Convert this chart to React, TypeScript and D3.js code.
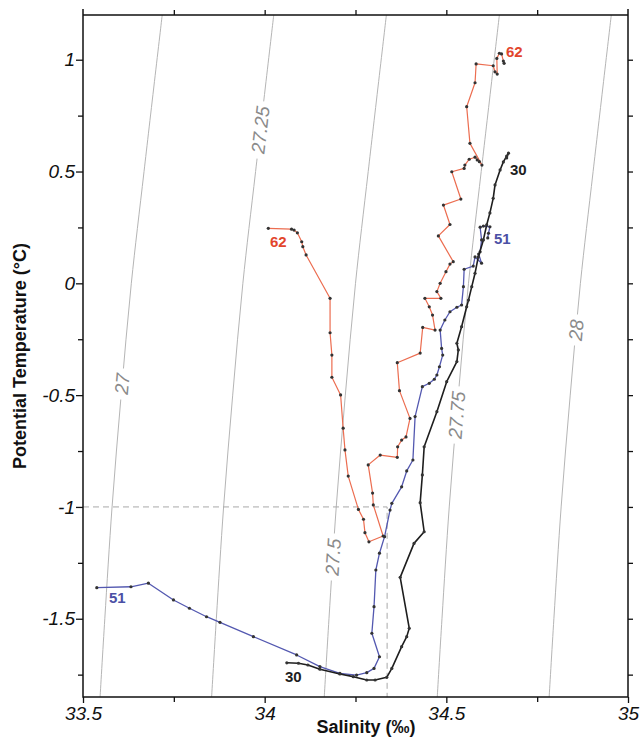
import React, { useEffect, useRef } from 'react';
import * as d3 from 'd3';

// temperature levels at which the isopycnal salinities were read
const isoTemps = [1.2, 0.5, 0, -0.5, -1, -1.5, -1.85];
const iso27 = [33.718, 33.668, 33.633, 33.605, 33.58, 33.56, 33.547];
const iso2725 = [34.025, 33.975, 33.94, 33.912, 33.887, 33.867, 33.854];
const iso275 = [34.335, 34.285, 34.25, 34.222, 34.197, 34.177, 34.164];
const iso2775 = [34.646, 34.596, 34.561, 34.533, 34.508, 34.488, 34.475];
const iso28 = [34.954, 34.904, 34.869, 34.841, 34.816, 34.796, 34.783];
const isoLabels = ['27', '27.25', '27.5', '27.75', '28'];
const isoLabelTemps = [-0.45, 0.686, -1.224, -0.589, -0.209];

// [salinity, potential temperature]
const station62: [number, number][] = [
  [34.01, 0.246], [34.074, 0.242], [34.081, 0.238], [34.09, 0.226], [34.102, 0.186],
  [34.105, 0.164], [34.114, 0.127], [34.18, -0.067], [34.18, -0.221], [34.185, -0.321],
  [34.185, -0.42], [34.209, -0.499], [34.216, -0.648], [34.221, -0.745], [34.23, -0.862],
  [34.258, -1.011], [34.272, -1.055], [34.276, -1.115], [34.287, -1.156], [34.326, -1.13],
  [34.299, -0.991], [34.297, -0.938], [34.285, -0.812], [34.318, -0.768], [34.365, -0.778],
  [34.366, -0.731], [34.377, -0.701], [34.389, -0.687], [34.4, -0.604], [34.371, -0.48],
  [34.365, -0.355], [34.428, -0.312], [34.435, -0.197], [34.469, -0.209], [34.462, -0.142],
  [34.453, -0.105], [34.441, -0.067], [34.485, -0.067], [34.474, -0.037], [34.483, 0.0],
  [34.499, 0.052], [34.51, 0.086], [34.519, 0.097], [34.478, 0.212], [34.51, 0.263],
  [34.492, 0.35], [34.54, 0.377], [34.515, 0.499], [34.549, 0.514], [34.551, 0.529],
  [34.563, 0.555], [34.579, 0.564], [34.585, 0.552], [34.591, 0.544], [34.598, 0.529],
  [34.565, 0.626], [34.556, 0.79], [34.579, 0.897], [34.582, 0.981], [34.629, 0.973],
  [34.634, 0.946], [34.64, 0.936], [34.639, 1.006], [34.646, 1.029], [34.652, 1.026],
  [34.657, 0.994], [34.659, 0.984],
];

const station51: [number, number][] = [
  [33.538, -1.361], [33.632, -1.357], [33.68, -1.341], [33.749, -1.416], [33.793, -1.453],
  [33.84, -1.491], [33.877, -1.516], [33.969, -1.58], [34.088, -1.662], [34.152, -1.714],
  [34.207, -1.744], [34.253, -1.752], [34.281, -1.741], [34.301, -1.722], [34.316, -1.67],
  [34.295, -1.565], [34.301, -1.446], [34.306, -1.282], [34.316, -1.207], [34.33, -1.133],
  [34.345, -1.014], [34.35, -0.984], [34.377, -0.91], [34.391, -0.839], [34.408, -0.79],
  [34.414, -0.596], [34.434, -0.462], [34.453, -0.447], [34.467, -0.429], [34.474, -0.41],
  [34.481, -0.373], [34.49, -0.321], [34.487, -0.291], [34.483, -0.209], [34.496, -0.164],
  [34.51, -0.127], [34.529, -0.107], [34.542, -0.097], [34.547, -0.015], [34.549, 0.063],
  [34.574, 0.077], [34.579, 0.118], [34.597, 0.09], [34.589, 0.131], [34.593, 0.141],
  [34.597, 0.194], [34.593, 0.251], [34.602, 0.256], [34.62, 0.253], [34.616, 0.224],
  [34.614, 0.203],
];

const station30: [number, number][] = [
  [34.061, -1.697], [34.093, -1.699], [34.119, -1.707], [34.152, -1.726], [34.207, -1.747],
  [34.244, -1.759], [34.281, -1.774], [34.304, -1.774], [34.336, -1.762], [34.35, -1.722],
  [34.377, -1.625], [34.391, -1.58], [34.398, -1.543], [34.373, -1.315], [34.411, -1.163],
  [34.439, -1.111], [34.428, -0.981], [34.434, -0.857], [34.439, -0.731], [34.474, -0.574],
  [34.501, -0.44], [34.529, -0.35], [34.533, -0.298], [34.529, -0.268], [34.542, -0.194],
  [34.556, -0.105], [34.561, -0.075], [34.57, -0.015], [34.579, 0.045], [34.588, 0.118],
  [34.602, 0.194], [34.611, 0.261], [34.62, 0.315], [34.629, 0.38], [34.634, 0.44],
  [34.648, 0.507], [34.657, 0.543], [34.666, 0.569], [34.671, 0.582], [34.666, 0.561],
];

const xMajor = [33.5, 34, 34.5, 35];
const xMinor = [33.75, 34.25, 34.75];
const yMajor = [-1.5, -1, -0.5, 0, 0.5, 1];
const yMinor = [-1.75, -1.25, -0.75, -0.25, 0.25, 0.75];

const FONT = '"Liberation Sans", Arial, Helvetica, sans-serif';

export default function App() {
  const svgRef = useRef<SVGSVGElement>(null);

  useEffect(() => {
    if (!svgRef.current) return;
    const svg = d3.select(svgRef.current);
    svg.selectAll('*').remove();

    const x = d3.scaleLinear().domain([33.5, 35]).range([83, 628]);
    const y = d3.scaleLinear().domain([-1.85, 1.2]).range([697, 15]);

    svg.append('defs').append('clipPath').attr('id', 'plot-clip')
      .append('rect')
      .attr('x', x(33.5)).attr('y', y(1.2))
      .attr('width', x(35) - x(33.5)).attr('height', y(-1.85) - y(1.2));

    // Isopycnals
    const isoGroup = svg.append('g').attr('clip-path', 'url(#plot-clip)');
    const isoLine = d3.line<number>()
      .x(s => x(s))
      .y((_, i) => y(isoTemps[i]))
      .curve(d3.curveCatmullRom);

    [iso27, iso2725, iso275, iso2775, iso28].forEach((sal, k) => {
      isoGroup.append('path')
        .attr('d', isoLine(sal))
        .attr('fill', 'none')
        .style('stroke', '#b5b5b5')
        .style('stroke-width', 1);

      const salAt = d3.scaleLinear().domain(isoTemps).range(sal);
      const t = isoLabelTemps[k];
      const cx = x(salAt(t));
      const cy = y(t);
      const ang = Math.atan2(y(t + 0.1) - y(t - 0.1), x(salAt(t + 0.1)) - x(salAt(t - 0.1))) * 180 / Math.PI;

      const lg = isoGroup.append('g').attr('transform', `translate(${cx},${cy}) rotate(${ang})`);
      const rect = lg.append('rect').attr('fill', '#fff');
      const txt = lg.append('text')
        .attr('text-anchor', 'middle')
        .attr('dy', '0.35em')
        .style('font-family', FONT)
        .style('font-style', 'italic')
        .style('font-size', '19px')
        .style('fill', '#8a8a8a')
        .text(isoLabels[k]);
      const len = (txt.node() as SVGTextElement).getComputedTextLength();
      rect.attr('x', -len / 2 - 5).attr('y', -8).attr('width', len + 10).attr('height', 16);
    });

    // Reference dashed lines at -1 degC
    const refS = 34.337;
    svg.append('path')
      .attr('d', `M${x(33.5)},${y(-1)}H${x(refS)}V${y(-1.85)}`)
      .attr('fill', 'none')
      .style('stroke', '#a8a8a8')
      .style('stroke-width', 1)
      .style('stroke-dasharray', '6,4');

    // Profiles
    const line = d3.line<[number, number]>().x(d => x(d[0])).y(d => y(d[1]));
    const profiles = [
      { data: station62, color: '#ec6d50', width: 1.2 },
      { data: station51, color: '#5358b0', width: 1.3 },
      { data: station30, color: '#1e1e1e', width: 1.6 },
    ];
    profiles.forEach(p => {
      svg.append('path')
        .attr('d', line(p.data))
        .attr('fill', 'none')
        .style('stroke', p.color)
        .style('stroke-width', p.width)
        .style('stroke-linejoin', 'round');
      svg.append('g').selectAll('circle')
        .data(p.data)
        .enter()
        .append('circle')
        .attr('cx', d => x(d[0]))
        .attr('cy', d => y(d[1]))
        .attr('r', 1.6)
        .style('fill', '#333');
    });

    // Station labels at both ends of each profile
    const stationLabels = [
      { text: '62', color: '#e2452c', pts: [[270, 247], [506, 57]] },
      { text: '51', color: '#4b50a5', pts: [[109, 603], [494, 244]] },
      { text: '30', color: '#1e1e1e', pts: [[285, 682], [510, 175]] },
    ];
    stationLabels.forEach(l => {
      l.pts.forEach(([px, py]) => {
        svg.append('text')
          .attr('x', px)
          .attr('y', py)
          .style('font-family', FONT)
          .style('font-weight', '700')
          .style('font-size', '15px')
          .style('fill', l.color)
          .text(l.text);
      });
    });

    // Axes
    const styleAxis = (g: d3.Selection<SVGGElement, unknown, null, undefined>) => {
      g.select('.domain').remove();
      g.selectAll('line').style('stroke', '#111').style('stroke-width', 1.3);
      g.selectAll('text')
        .style('font-family', FONT)
        .style('font-style', 'italic')
        .style('font-size', '19px')
        .style('fill', '#111');
    };

    svg.append('g').attr('transform', `translate(${x(33.5)},0)`)
      .call(d3.axisLeft(y).tickValues(yMajor).tickSize(7).tickPadding(1).tickFormat(d => String(d)))
      .call(styleAxis);
    svg.append('g').attr('transform', `translate(${x(33.5)},0)`)
      .call(d3.axisLeft(y).tickValues(yMinor).tickSize(5).tickFormat(() => ''))
      .call(styleAxis);
    svg.append('g').attr('transform', `translate(${x(35)},0)`)
      .call(d3.axisRight(y).tickValues([...yMajor, ...yMinor]).tickSize(5).tickFormat(() => ''))
      .call(styleAxis);

    svg.append('g').attr('transform', `translate(0,${y(-1.85)})`)
      .call(d3.axisBottom(x).tickValues(xMajor).tickSize(6).tickPadding(4).tickFormat(d => String(d)))
      .call(styleAxis);
    svg.append('g').attr('transform', `translate(0,${y(-1.85)})`)
      .call(d3.axisBottom(x).tickValues(xMinor).tickSize(5).tickFormat(() => ''))
      .call(styleAxis);
    svg.append('g').attr('transform', `translate(0,${y(1.2)})`)
      .call(d3.axisTop(x).tickValues([33.75, 34, 34.25, 34.5, 34.75]).tickSize(5).tickFormat(() => ''))
      .call(styleAxis);

    // Frame
    svg.append('path')
      .attr('d', `M${x(33.5)},${y(1.2) - 6}V${y(-1.85)}H${x(35)}V${y(1.2) - 6}M${x(33.5)},${y(1.2)}H${x(35)}`)
      .attr('fill', 'none')
      .style('stroke', '#111')
      .style('stroke-width', 1.5);

    // Axis titles
    svg.append('text')
      .attr('transform', `translate(26,${(y(1.2) + y(-1.85)) / 2}) rotate(-90)`)
      .attr('text-anchor', 'middle')
      .style('font-family', FONT)
      .style('font-weight', '700')
      .style('font-size', '18px')
      .style('fill', '#111')
      .text('Potential Temperature (°C)');

    svg.append('text')
      .attr('x', 366)
      .attr('y', 733)
      .attr('text-anchor', 'middle')
      .style('font-family', FONT)
      .style('font-weight', '700')
      .style('font-size', '18px')
      .style('fill', '#111')
      .text('Salinity (‰)');
  }, []);

  return (
    <svg
      ref={svgRef}
      width={640}
      height={745}
      style={{ position: 'absolute', left: 0, top: 0, background: '#fff' }}
    />
  );
}
